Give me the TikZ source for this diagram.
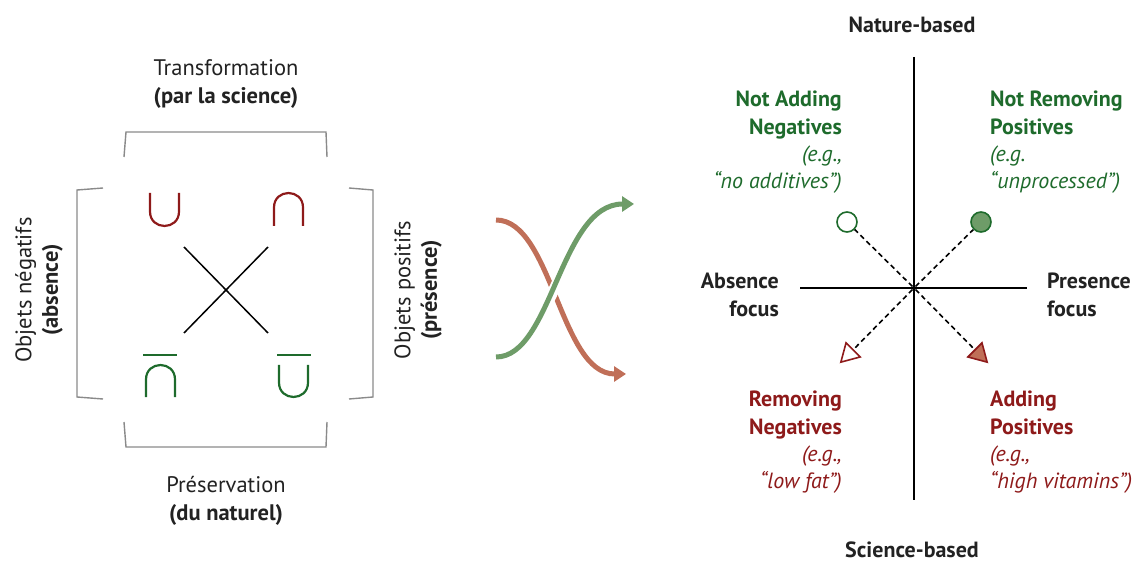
\documentclass[tikz,border=0pt]{standalone}
\usepackage{fontspec}
\setmainfont{PT Sans}
\usetikzlibrary{arrows.meta,shapes.geometric}
\definecolor{dgreen}{HTML}{1E6B2C}
\definecolor{dred}{HTML}{8E1A1A}
\definecolor{mgreen}{HTML}{6E9C68}
\definecolor{mred}{HTML}{C06F58}
\definecolor{brk}{HTML}{8A8A8A}
\definecolor{txt}{HTML}{222222}
\begin{document}
\begin{tikzpicture}[x=1pt,y=-1pt,
  lbl/.style={inner sep=0pt, text=txt, font=\fontsize{22.5}{26.5}\selectfont},
  qlbl/.style={inner sep=0pt, text=txt, font=\fontsize{22}{27.3}\selectfont},
  bracket/.style={draw=brk, line width=1.4pt},
  cupred/.style={draw=dred, line width=2.2pt},
  cupgreen/.style={draw=dgreen, line width=2.2pt},
  xline/.style={draw=black, line width=1.5pt},
  axisline/.style={draw=black, line width=2pt},
  dashline/.style={draw=black, line width=1.6pt, dash pattern=on 5pt off 3.5pt},
  mk/.style={inner sep=0pt, line width=1.6pt},
  flow/.style={line width=5pt, -{Triangle[length=12pt,width=15pt]}}
]
\useasboundingbox (0,0) rectangle (1141,561);

% ---------- left diagram ----------
\node[lbl, anchor=base] (ttop1) at (226,76) {Transformation};
\node[lbl, anchor=base] (ttop2) at (226,104) {\textbf{(par la science)}};
\node[lbl, anchor=base] (tbot1) at (226,492) {Préservation};
\node[lbl, anchor=base] (tbot2) at (226,520) {\textbf{(du naturel)}};
\node[lbl, rotate=90, align=center] (tleft) at (39,290) {Objets négatifs\\\textbf{(absence)}};
\node[lbl, rotate=90, align=center] (tright) at (418,290) {Objets positifs\\\textbf{(présence)}};

% brackets
\draw[bracket] (124,157) -- (126,132) -- (326,132) -- (327,157);
\draw[bracket] (124,422) -- (126,447) -- (326,447) -- (327,422);
\draw[bracket] (103,188) -- (77,190) -- (77,397) -- (103,399);
\draw[bracket] (349,188) -- (373,190) -- (373,397) -- (349,399);

% cup / cap symbols
\draw[cupred] (150,193) -- (150,211.5) .. controls (150,230.8) and (179,230.8) .. (179,211.5) -- (179,193);
\draw[cupred] (274,226) -- (274,207.5) .. controls (274,188.2) and (303,188.2) .. (303,207.5) -- (303,226);
\draw[cupgreen] (143,355) -- (177,355);
\draw[cupgreen] (146,397) -- (146,379.5) .. controls (146,360.2) and (175,360.2) .. (175,379.5) -- (175,397);
\draw[cupgreen] (277,355) -- (311,355);
\draw[cupgreen] (279,365) -- (279,382.5) .. controls (279,401.8) and (308,401.8) .. (308,382.5) -- (308,365);

% X
\draw[xline] (184,247) -- (268,333);
\draw[xline] (268,247) -- (184,333);

% ---------- crossing arrows ----------
\coordinate (r1) at (496,220);
\coordinate (r2) at (626,374);
\coordinate (g1) at (496,357);
\coordinate (g2) at (634,204);
\draw[flow, mred] (r1) .. controls (552,220) and (560,374) .. (r2);
\draw[line width=11pt, white] (g1) .. controls (552,357) and (560,204) .. (g2);
\draw[flow, mgreen] (g1) .. controls (552,357) and (560,204) .. (g2);

% ---------- right diagram ----------
\coordinate (vt) at (914,57);
\coordinate (vb) at (914,500);
\coordinate (hl) at (800,288);
\coordinate (hr) at (1027,288);
\draw[axisline] (vt) -- (vb);
\draw[axisline] (hl) -- (hr);
\node[circle, fill=black, inner sep=0pt, minimum size=4pt] (o) at (914,288) {};

\node[qlbl, anchor=base] (nat) at (912,33) {\textbf{Nature-based}};
\node[qlbl, anchor=base] (sci) at (912,557) {\textbf{Science-based}};
\node[qlbl, anchor=north east, align=right] (abs) at (779,273) {\textbf{Absence}\\\textbf{focus}};
\node[qlbl, anchor=north west, align=left] (pres) at (1047,273) {\textbf{Presence}\\\textbf{focus}};

\node[qlbl, anchor=north east, align=right, text=dgreen] (qtl) at (842,91)
  {\textbf{Not Adding}\\\textbf{Negatives}\\\textit{(e.g.,}\\\textit{“no additives”)}};
\node[qlbl, anchor=north west, align=left, text=dgreen] (qtr) at (990,91)
  {\textbf{Not Removing}\\\textbf{Positives}\\\textit{(e.g.}\\\textit{“unprocessed”)}};
\node[qlbl, anchor=north east, align=right, text=dred] (qbl) at (842,391)
  {\textbf{Removing}\\\textbf{Negatives}\\\textit{(e.g.,}\\\textit{“low fat”)}};
\node[qlbl, anchor=north west, align=left, text=dred] (qbr) at (990,391)
  {\textbf{Adding}\\\textbf{Positives}\\\textit{(e.g.,}\\\textit{“high vitamins”)}};

\node[mk, circle, draw=dgreen, fill=white, minimum size=20pt] (m1) at (847,222) {};
\node[mk, circle, draw=dgreen, fill=mgreen, minimum size=20pt] (m2) at (981,222) {};
\node[mk, regular polygon, regular polygon sides=3, shape border rotate=135, draw=dred, fill=white, minimum size=23pt] (m3) at (849,354) {};
\node[mk, regular polygon, regular polygon sides=3, shape border rotate=-135, draw=dred, fill=mred, minimum size=23pt] (m4) at (979,354) {};
\draw[dashline] (o) -- (m1);
\draw[dashline] (o) -- (m2);
\draw[dashline] (o) -- (m3);
\draw[dashline] (o) -- (m4);
\end{tikzpicture}
\end{document}
